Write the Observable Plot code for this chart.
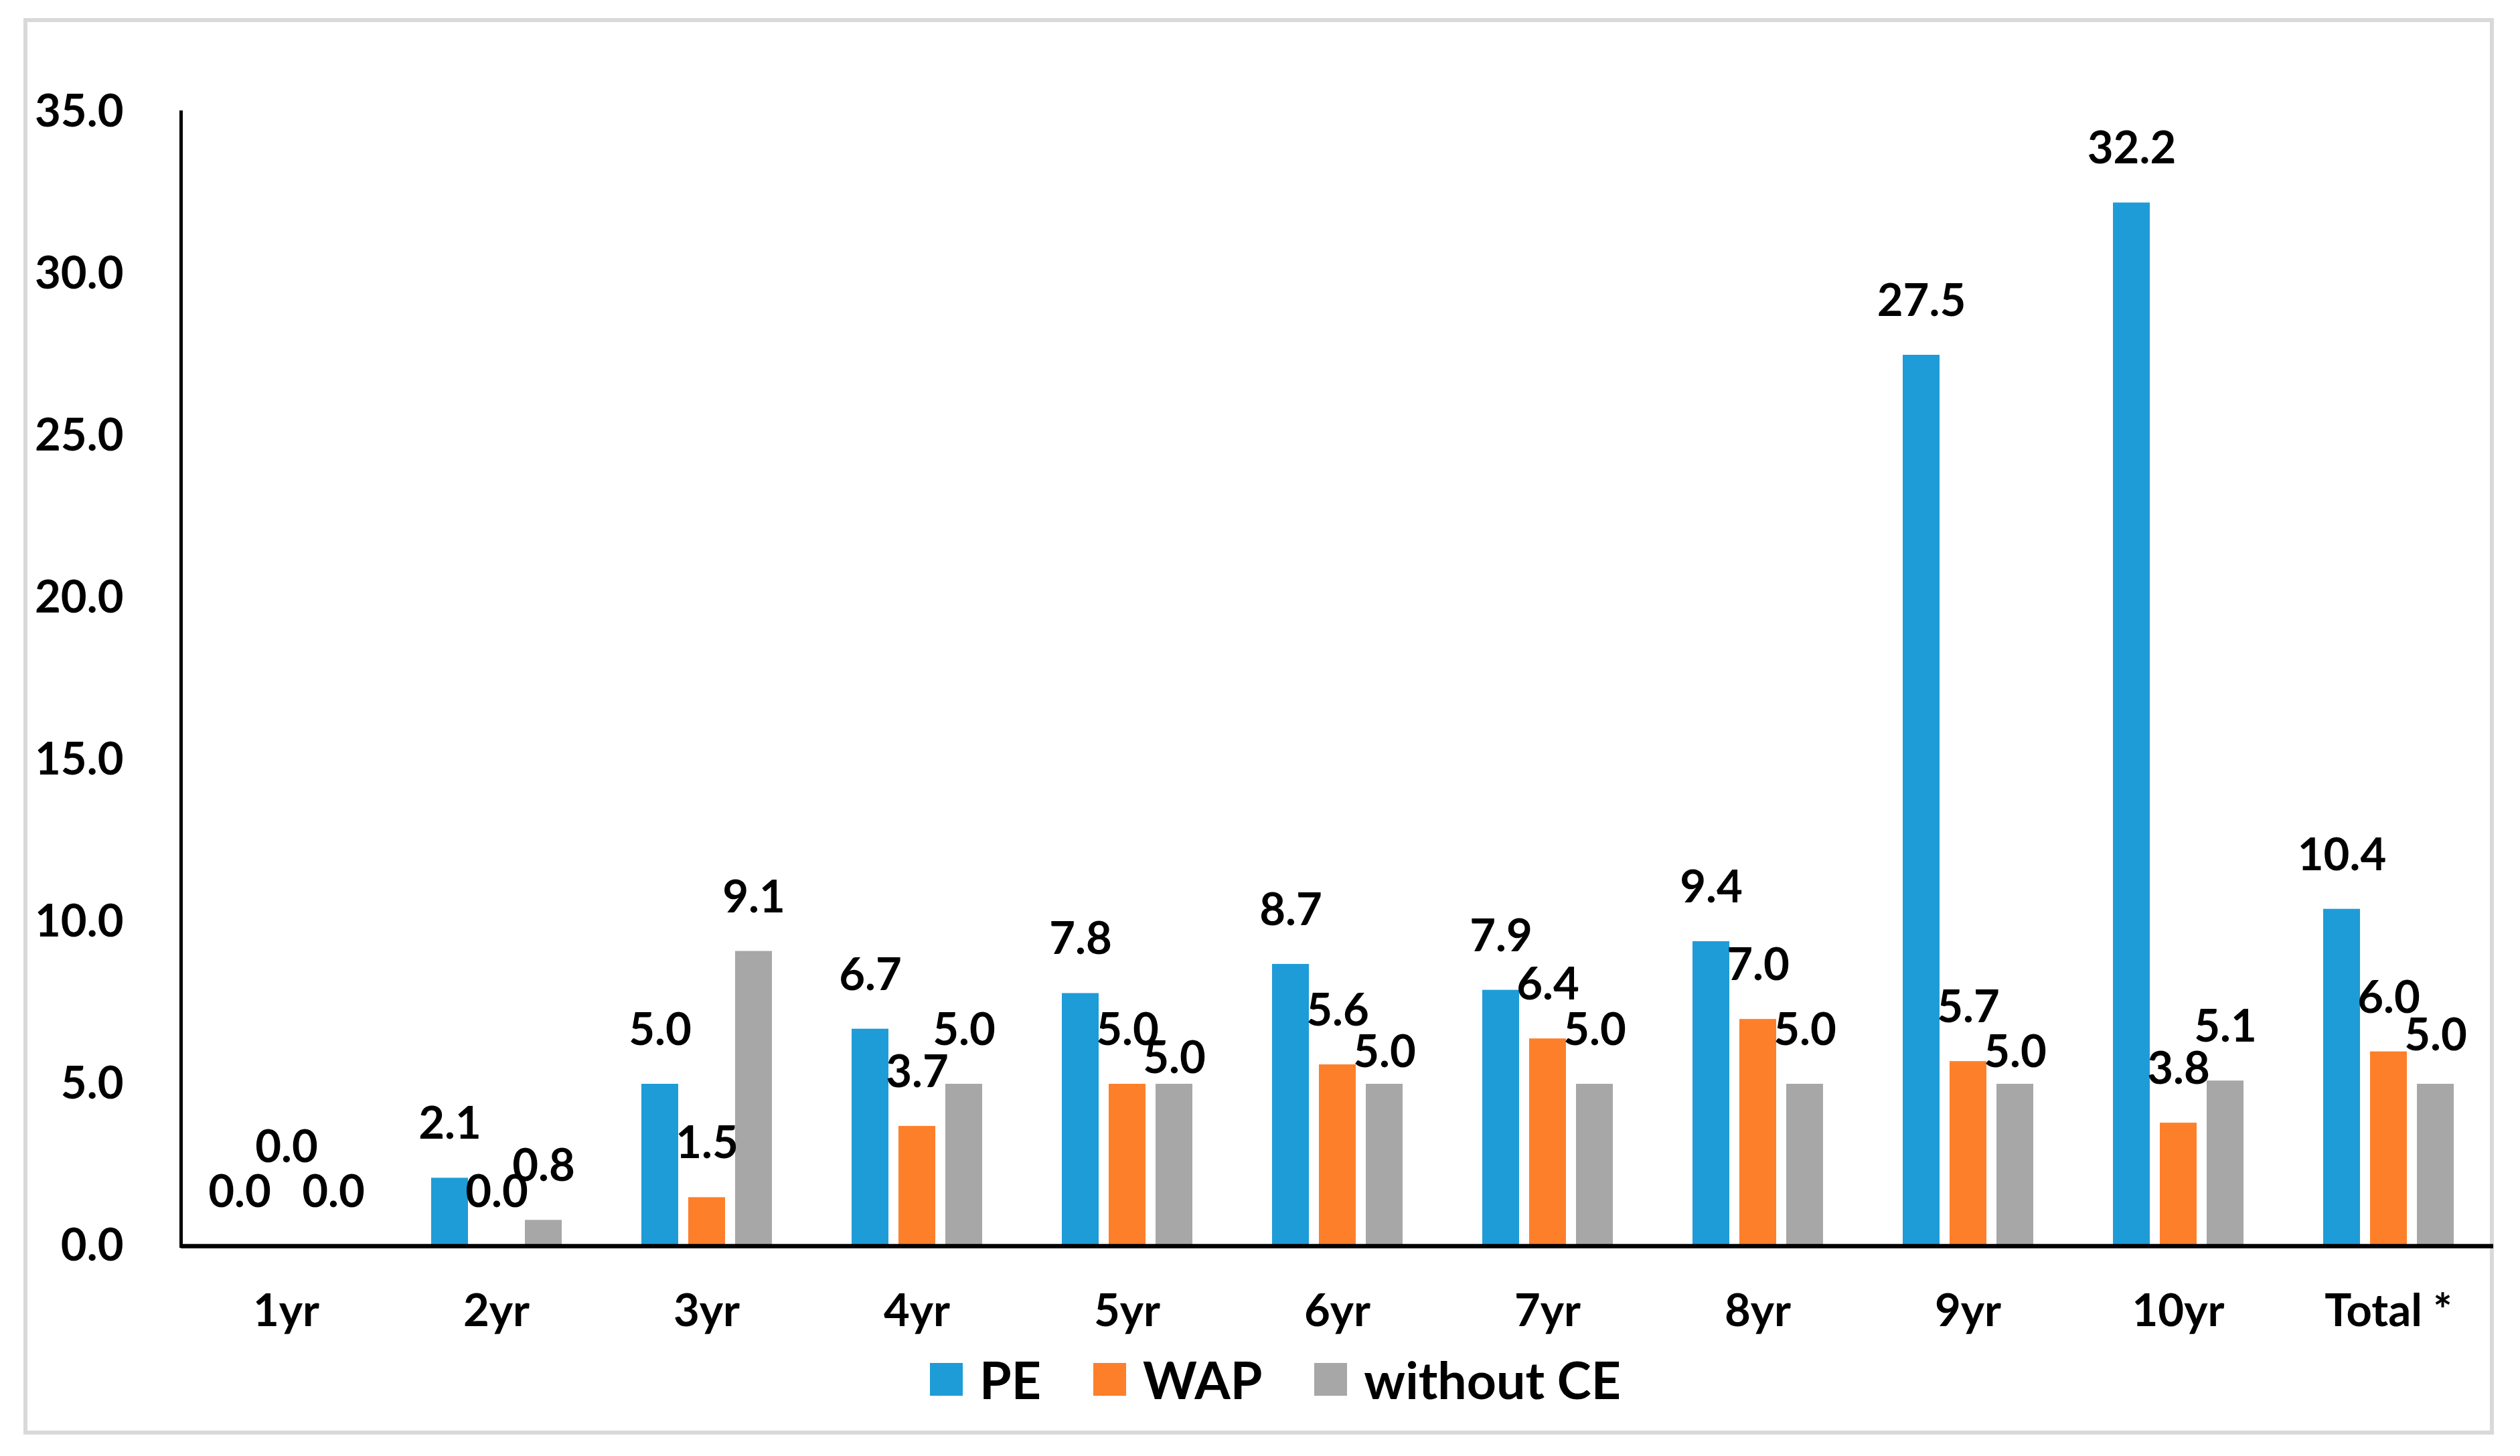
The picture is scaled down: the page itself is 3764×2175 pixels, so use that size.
<!DOCTYPE html>
<html><head><meta charset="utf-8">
<script src="https://cdn.jsdelivr.net/npm/d3@7"></script>
<script src="https://cdn.jsdelivr.net/npm/@observablehq/plot@0.6"></script>
<style>
html,body{margin:0;padding:0;background:#fff;}
#wrap{position:relative;width:3764px;height:2175px;overflow:hidden;font-family:Lato,"Open Sans",sans-serif;font-weight:700;}
#border{position:absolute;left:35px;top:27px;width:3690px;height:2116px;box-sizing:border-box;border:6px solid #d9d9d9;}
#chart{position:absolute;left:0;top:0;}
#legend{position:absolute;left:35px;width:3690px;box-sizing:border-box;padding-left:50px;top:2020px;height:80px;display:flex;justify-content:center;align-items:center;font-size:77px;color:#000;line-height:1;}
.item{display:flex;align-items:center;margin:0 39px;}
.sw{width:49px;height:49px;margin-right:25px;}
</style>
</head><body>
<div id="wrap"><div id="border"></div><div id="chart"></div><div id="legend"></div></div>
<script>
const categories = ["1yr","2yr","3yr","4yr","5yr","6yr","7yr","8yr","9yr","10yr","Total *"];
const series = ["PE","WAP","without CE"];
const PE        = [0.0, 2.1, 5.0, 6.7, 7.8, 8.7, 7.9, 9.4, 27.5, 32.2, 10.4];
const WAP       = [0.0, 0.0, 1.5, 3.7, 5.0, 5.6, 6.4, 7.0, 5.7, 3.8, 6.0];
const withoutCE = [0.0, 0.8, 9.1, 5.0, 5.0, 5.0, 5.0, 5.0, 5.0, 5.1, 5.0];
const yTicks = [0, 5, 10, 15, 20, 25, 30, 35];
const colors = ["#1E9CD7", "#FE7F2A", "#A7A7A7"];

// label placement tweaks (px, positive = higher) as in the original chart
const labelNudge = {"1yr|WAP": 67, "5yr|without CE": -42, "6yr|without CE": -33, "9yr|without CE": -33, "Total *|without CE": -8};

const values = [PE, WAP, withoutCE];
const rows = categories.flatMap((c, i) => series.map((s, j) => ({cat: c, series: s, value: values[j][i]})));
const groups = d3.groups(rows, d => labelNudge[d.cat + "|" + d.series] ?? 0);

const font = "Lato, 'Open Sans', sans-serif";
const chart = Plot.plot({
  width: 3764, height: 2000,
  marginLeft: 269, marginRight: 39, marginTop: 167, marginBottom: 139,
  style: `font-family: ${font}; font-size: 67px; font-weight: 700; color: #000; background: transparent; overflow: visible;`,
  fx: {domain: categories, padding: 0, axis: "bottom", label: null, tickSize: 0, tickPadding: 72},
  x: {domain: series, axis: null, paddingInner: 0.2145, paddingOuter: 0.839},
  y: {domain: [0, 35], ticks: yTicks, tickFormat: d => d.toFixed(1), tickSize: 0, tickPadding: 86, label: null},
  color: {domain: series, range: colors},
  marks: [
    Plot.barY(rows, {fx: "cat", x: "series", y: "value", fill: "series"}),
    ...groups.map(([n, g]) => Plot.text(g, {fx: "cat", x: "series", y: "value", text: d => d.value.toFixed(1), dy: -(80 + n), fontSize: 67, fontWeight: 700, fill: "#000"})),
    Plot.ruleY([0], {stroke: "#000", strokeWidth: 6.5}),
    Plot.frame({anchor: "left", facetAnchor: "left", stroke: "#000", strokeWidth: 5})
  ]
});
document.getElementById("chart").appendChild(chart);

const legend = document.getElementById("legend");
series.forEach((s, i) => {
  const item = document.createElement("div");
  item.className = "item";
  const sw = document.createElement("div");
  sw.className = "sw";
  sw.style.background = colors[i];
  const t = document.createElement("span");
  t.textContent = s;
  item.appendChild(sw); item.appendChild(t);
  legend.appendChild(item);
});
</script>
</body></html>
